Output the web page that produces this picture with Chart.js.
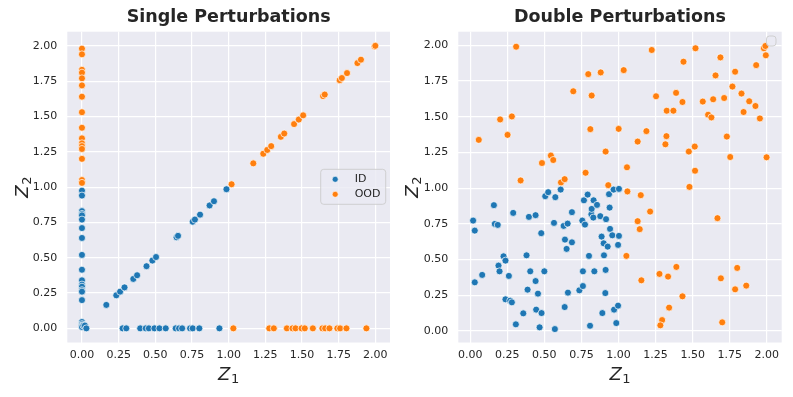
<!DOCTYPE html>
<html>
<head>
<meta charset="utf-8">
<script src="https://cdn.jsdelivr.net/npm/chart.js@4.4.1/dist/chart.umd.min.js"></script>
<style>
  html, body { margin: 0; padding: 0; background: #fff; }
  #wrap { position: relative; width: 793px; height: 397px; }
  canvas { position: absolute; top: 0; }
  #singleChart { left: 0; }
  #doubleChart { left: 396px; }
</style>
</head>
<body>
<div id="wrap">
  <canvas id="singleChart" width="396" height="397"></canvas>
  <canvas id="doubleChart" width="397" height="397"></canvas>
</div>
<script>
// tick labels shared by both panels
const axisTicks = [0, 0.25, 0.5, 0.75, 1, 1.25, 1.5, 1.75, 2];

// single perturbations: [z1, z2]
const singleID = [
  [0, 0.975], [0, 0.94], [0, 0.83], [0, 0.81], [0, 0.80], [0, 0.77], [0, 0.71], [0, 0.64],
  [0, 0.52], [0, 0.415], [0, 0.34], [0, 0.31], [0, 0.295], [0, 0.27], [0, 0.26], [0, 0.20],
  [0, 0.045], [0, 0.03], [0, 0.02], [0, 0.01], [0.01, 0.02], [0.02, 0.02], [0.03, 0.0],
  [0.166, 0.166], [0.234, 0.234], [0.26, 0.26], [0.29, 0.29], [0.35, 0.35], [0.376, 0.376],
  [0.44, 0.44], [0.48, 0.48], [0.505, 0.505], [0.645, 0.645], [0.655, 0.655], [0.755, 0.755],
  [0.77, 0.77], [0.805, 0.805], [0.87, 0.87], [0.9, 0.9], [0.985, 0.985],
  [0.277, 0], [0.302, 0], [0.397, 0], [0.435, 0], [0.456, 0], [0.494, 0], [0.528, 0],
  [0.571, 0], [0.639, 0], [0.662, 0], [0.683, 0], [0.737, 0], [0.755, 0], [0.80, 0], [0.937, 0]
];
const singleOOD = [
  [0, 1.98], [0, 1.94], [0, 1.83], [0, 1.81], [0, 1.77], [0, 1.72], [0, 1.64], [0, 1.53],
  [0, 1.42], [0, 1.345], [0, 1.31], [0, 1.29], [0, 1.27], [0, 1.20], [0, 1.05], [0, 1.03],
  [1.02, 1.02], [1.168, 1.168], [1.236, 1.236], [1.263, 1.263], [1.29, 1.29], [1.356, 1.356],
  [1.379, 1.379], [1.446, 1.446], [1.478, 1.478], [1.508, 1.508], [1.644, 1.644], [1.655, 1.655],
  [1.757, 1.757], [1.772, 1.772], [1.807, 1.807], [1.878, 1.878], [1.902, 1.902], [1.995, 1.995], [2.0, 2.0],
  [1.032, 0], [1.277, 0], [1.308, 0], [1.397, 0], [1.435, 0], [1.456, 0], [1.497, 0], [1.519, 0],
  [1.574, 0], [1.639, 0], [1.658, 0], [1.687, 0], [1.741, 0], [1.76, 0], [1.803, 0], [1.939, 0]
];

// double perturbations: [z1, z2]
const doubleID = [
  [0.02, 0.773], [0.031, 0.703], [0.031, 0.341], [0.081, 0.393], [0.16, 0.881], [0.166, 0.75],
  [0.186, 0.743], [0.225, 0.523], [0.238, 0.493], [0.191, 0.458], [0.198, 0.418], [0.261, 0.386],
  [0.238, 0.222], [0.27, 0.213], [0.281, 0.201], [0.29, 0.827], [0.308, 0.047], [0.358, 0.124],
  [0.38, 0.53], [0.387, 0.29], [0.396, 0.799], [0.405, 0.418], [0.441, 0.811], [0.441, 0.35],
  [0.457, 0.262], [0.445, 0.15], [0.468, 0.026], [0.481, 0.126], [0.479, 0.685], [0.5, 0.418],
  [0.506, 0.944], [0.526, 0.972], [0.565, 0.757], [0.571, 0.014], [0.574, 0.937], [0.61, 0.99],
  [0.63, 0.736], [0.657, 0.752], [0.639, 0.64], [0.65, 0.575], [0.659, 0.269], [0.637, 0.168],
  [0.686, 0.832], [0.686, 0.621], [0.736, 0.285], [0.756, 0.773], [0.76, 0.418], [0.76, 0.315],
  [0.767, 0.915], [0.774, 0.745], [0.792, 0.955], [0.801, 0.526], [0.808, 0.037], [0.817, 0.818],
  [0.819, 0.855], [0.83, 0.794], [0.832, 0.915], [0.837, 0.418], [0.855, 0.883], [0.877, 0.804],
  [0.886, 0.661], [0.891, 0.126], [0.9, 0.614], [0.902, 0.53], [0.911, 0.266], [0.913, 0.428],
  [0.916, 0.783], [0.927, 0.591], [0.936, 0.958], [0.94, 0.864], [0.943, 0.715], [0.958, 0.67],
  [0.967, 0.99], [0.97, 0.15], [0.985, 0.056], [0.997, 0.178], [0.997, 0.603], [1.003, 0.666],
  [1.003, 0.995]
];
const doubleOOD = [
  [0.058, 1.338], [0.202, 1.481], [0.252, 1.373], [0.281, 1.502], [0.31, 1.99], [0.34, 1.054],
  [0.484, 1.176], [0.544, 1.228], [0.56, 1.197], [0.612, 1.04], [0.637, 1.063], [0.695, 1.678],
  [0.778, 1.108], [0.796, 1.798], [0.81, 1.413], [0.819, 1.648], [0.88, 1.81], [0.913, 1.256],
  [0.931, 1.021], [1.001, 1.415], [1.035, 1.826], [1.057, 1.146], [1.06, 0.977], [1.129, 1.326],
  [1.15, 0.951], [1.188, 1.399], [1.224, 1.967], [1.253, 1.643], [1.316, 1.307], [1.323, 1.364],
  [1.325, 1.542], [1.37, 1.542], [1.388, 1.667], [1.431, 1.603], [1.438, 1.885], [1.474, 1.256],
  [1.478, 1.009], [1.514, 1.291], [1.516, 1.122], [1.519, 1.979], [1.568, 1.606], [1.604, 1.514],
  [1.626, 1.495], [1.638, 1.622], [1.654, 1.789], [1.687, 1.915], [1.712, 1.631], [1.73, 1.361],
  [1.753, 1.218], [1.768, 1.711], [1.786, 1.815], [1.829, 1.662], [1.843, 1.533], [1.881, 1.608],
  [1.923, 1.575], [1.928, 1.861], [1.953, 1.488], [1.98, 1.979], [1.993, 1.93], [1.998, 1.216],
  [1.99, 1.995],
  [1.129, 0.769], [1.143, 0.713], [1.053, 0.526], [1.213, 0.836], [1.154, 0.355], [1.276, 0.40],
  [1.334, 0.381], [1.39, 0.449], [1.431, 0.243], [1.341, 0.164], [1.294, 0.077], [1.282, 0.04],
  [1.667, 0.79], [1.69, 0.369], [1.699, 0.061], [1.786, 0.292], [1.80, 0.442], [1.861, 0.318]
];

const BLUE = '#1f77b4';
const ORANGE = '#ff7f0e';
const TEXT = '#262626';
const FACE = '#eaeaf2';

Chart.defaults.font.family = '"DejaVu Sans", sans-serif';
Chart.defaults.color = TEXT;

function toPoints(pairs) {
  return pairs.map(p => ({ x: p[0], y: p[1] }));
}

function dataset(label, pairs, color) {
  return {
    label,
    data: toPoints(pairs),
    backgroundColor: color,
    borderColor: '#ffffff',
    borderWidth: 0.7,
    pointRadius: 3.5,
    pointHoverRadius: 3.5
  };
}

const facePlugin = {
  id: 'face',
  beforeDraw(chart) {
    const a = chart.chartArea;
    const ctx = chart.ctx;
    ctx.save();
    ctx.fillStyle = FACE;
    ctx.fillRect(a.left, a.top, a.right - a.left, a.bottom - a.top);
    ctx.restore();
  }
};

function roundBox(ctx, x, y, w, h, r) {
  ctx.beginPath();
  ctx.moveTo(x + r, y);
  ctx.arcTo(x + w, y, x + w, y + h, r);
  ctx.arcTo(x + w, y + h, x, y + h, r);
  ctx.arcTo(x, y + h, x, y, r);
  ctx.arcTo(x, y, x + w, y, r);
  ctx.closePath();
}

// legend drawn inside the axes, like matplotlib
const innerLegend = {
  id: 'innerLegend',
  afterDatasetsDraw(chart, args, opts) {
    const a = chart.chartArea;
    const ctx = chart.ctx;
    ctx.save();
    const x = a.right - opts.right - opts.width;
    const y = a.top + opts.top;
    roundBox(ctx, x, y, opts.width, opts.height, 3);
    ctx.fillStyle = 'rgba(234,234,242,0.8)';
    ctx.fill();
    ctx.strokeStyle = 'rgba(204,204,204,0.9)';
    ctx.lineWidth = 1;
    ctx.stroke();
    if (opts.showItems) {
      ctx.font = '11px "DejaVu Sans"';
      ctx.textBaseline = 'middle';
      chart.data.datasets.forEach((ds, i) => {
        const cy = y + 10 + i * 15;
        ctx.beginPath();
        ctx.arc(x + 14.5, cy, 3, 0, Math.PI * 2);
        ctx.fillStyle = ds.backgroundColor;
        ctx.fill();
        ctx.strokeStyle = '#fff';
        ctx.lineWidth = 0.6;
        ctx.stroke();
        ctx.fillStyle = TEXT;
        ctx.fillText(ds.label, x + 34, cy);
      });
    }
    ctx.restore();
  }
};

// Z with a mathtext-like subscript
function mathLabel(ctx, cx, baseline, sub) {
  ctx.font = 'italic 18px "DejaVu Sans"';
  const wz = ctx.measureText('Z').width;
  ctx.font = '13px "DejaVu Sans"';
  const ws = ctx.measureText(sub).width;
  const x0 = cx - (wz + ws + 0.5) / 2;
  ctx.textAlign = 'left';
  ctx.textBaseline = 'alphabetic';
  ctx.fillStyle = TEXT;
  ctx.font = 'italic 18px "DejaVu Sans"';
  ctx.fillText('Z', x0, baseline);
  ctx.font = '13px "DejaVu Sans"';
  ctx.fillText(sub, x0 + wz + 0.5, baseline + 2.5);
}

const axisLabels = {
  id: 'axisLabels',
  afterDraw(chart, args, opts) {
    const a = chart.chartArea;
    const ctx = chart.ctx;
    ctx.save();
    mathLabel(ctx, (a.left + a.right) / 2, a.bottom + 37.5, '1');
    ctx.translate(opts.yBase, (a.top + a.bottom) / 2);
    ctx.rotate(-Math.PI / 2);
    mathLabel(ctx, 0, 0, '2');
    ctx.restore();
  }
};

function buildScatter(id, title, idPairs, oodPairs, lim, frame, legendOpts) {
  return new Chart(document.getElementById(id), {
    type: 'scatter',
    data: {
      datasets: [dataset('ID', idPairs, BLUE), dataset('OOD', oodPairs, ORANGE)]
    },
    plugins: [facePlugin, innerLegend, axisLabels],
    options: {
      responsive: false,
      animation: false,
      devicePixelRatio: 1,
      events: [],
      layout: { padding: { left: 0, right: frame.right, top: 0, bottom: 0 } },
      plugins: {
        legend: { display: false },
        tooltip: { enabled: false },
        title: {
          display: true,
          text: title,
          fullSize: false,
          color: TEXT,
          font: { size: 17.5, weight: 'bold' },
          padding: { top: 7, bottom: 3.7 }
        },
        innerLegend: legendOpts,
        axisLabels: { yBase: frame.yBase }
      },
      scales: {
        x: {
          type: 'linear',
          min: lim.x[0],
          max: lim.x[1],
          afterFit: s => { s.height = 54.5; },
          afterBuildTicks: s => { s.ticks = axisTicks.map(v => ({ value: v })); },
          border: { display: false },
          grid: { color: '#ffffff', lineWidth: 1.2, drawTicks: false },
          ticks: { font: { size: 11 }, color: TEXT, padding: 6, maxRotation: 0, callback: v => v.toFixed(2) }
        },
        y: {
          type: 'linear',
          min: lim.y[0],
          max: lim.y[1],
          afterFit: s => { s.width = frame.left; },
          afterBuildTicks: s => { s.ticks = axisTicks.map(v => ({ value: v })); },
          border: { display: false },
          grid: { color: '#ffffff', lineWidth: 1.2, drawTicks: false },
          ticks: { font: { size: 11 }, color: TEXT, padding: 10, callback: v => v.toFixed(2) }
        }
      }
    }
  });
}

buildScatter('singleChart', 'Single Perturbations', singleID, singleOOD,
  { x: [-0.1, 2.1], y: [-0.1, 2.1] },
  { left: 67.3, right: 6, yBase: 28 },
  { showItems: true, width: 65, height: 35, right: 4.3, top: 137.6 });

buildScatter('doubleChart', 'Double Perturbations', doubleID, doubleOOD,
  { x: [-0.08, 2.1], y: [-0.08, 2.095] },
  { left: 62.3, right: 11.3, yBase: 22 },
  { showItems: false, width: 9.5, height: 10, right: 5.7, top: 4.3 });
</script>
</body>
</html>
